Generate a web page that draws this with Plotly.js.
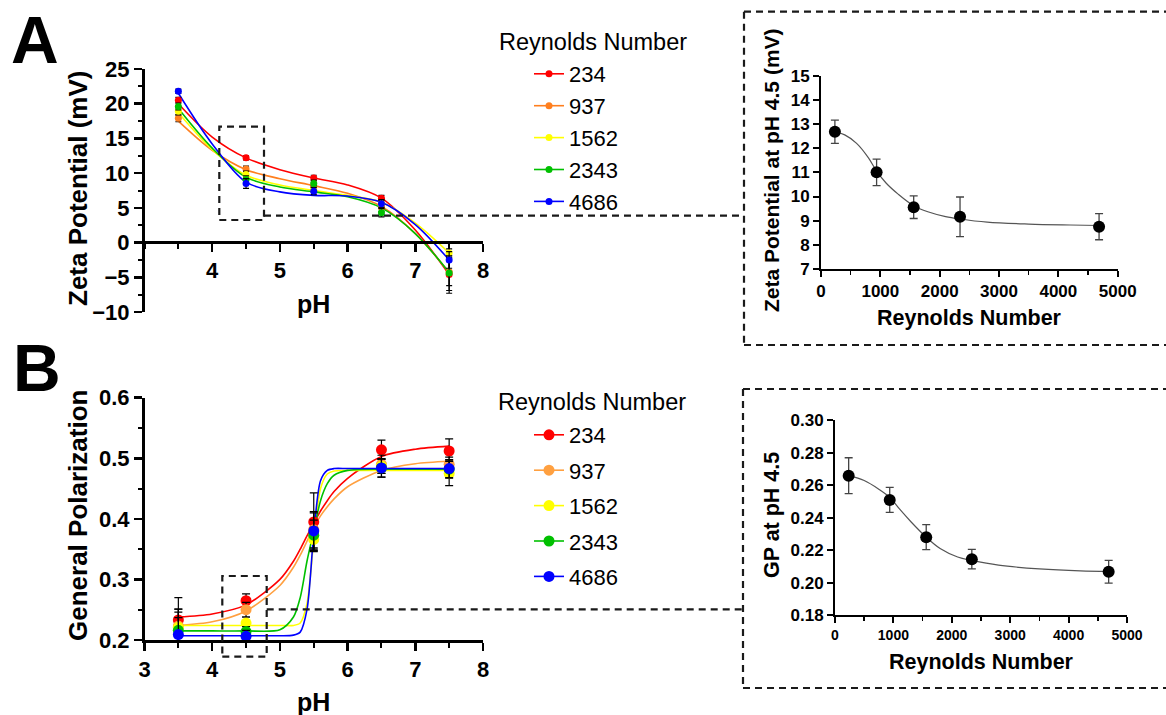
<!DOCTYPE html>
<html>
<head>
<meta charset="utf-8">
<script src="https://cdn.plot.ly/plotly-3.0.1.min.js"></script>
<style>html,body{margin:0;padding:0;background:#fff;}#chart{width:1166px;height:715px;}</style>
</head>
<body>
<div id="chart"></div>
<script>
// ---------- DATA ----------
const seriesNames = ['234', '937', '1562', '2343', '4686'];
const colorsA = ['#ff0000', '#ff7f1e', '#ffff00', '#00c000', '#0000ff'];
const colorsB = ['#ff0000', '#ffa040', '#ffff00', '#00c000', '#0000ff'];

// Panel A: zeta potential vs pH
const pHPoints = [3.5, 4.5, 5.5, 6.5, 7.5];
const zeta234  = [20.5, 12.2, 9.3, 6.4, -4.6];
const zeta937  = [17.9, 10.6, 8.1, 5.1, -4.2];
const zeta1562 = [18.9, 9.8, 7.7, 5.6, -1.5];
const zeta2343 = [19.6, 9.1, 8.5, 4.3, -4.4];
const zeta4686 = [21.8, 8.5, 7.4, 5.6, -2.5];
const zetaErr234  = [0.4, 0.3, 0.4, 0.4, 2.7];
const zetaErr937  = [0.5, 0.4, 0.5, 0.6, 2.0];
const zetaErr1562 = [0.5, 0.5, 0.5, 0.5, 0.6];
const zetaErr2343 = [0.5, 0.5, 0.5, 0.6, 2.5];
const zetaErr4686 = [0.3, 0.7, 0.5, 0.6, 1.2];

// Panel A fitted curves
const fitPHA = [3.5, 4, 4.5, 5, 5.5, 6, 6.5, 7, 7.5];
const zetaFit234  = [20.0, 15.2, 12.2, 10.5, 9.3, 8.3, 6.4, 1.8, -4.6];
const zetaFit937  = [17.5, 13.3, 10.5, 9.2, 8.2, 7.1, 5.2, 1.3, -4.3];
const zetaFit1562 = [18.7, 13.4, 9.7, 8.3, 7.5, 6.8, 5.8, 2.8, -1.5];
const zetaFit2343 = [19.3, 13.6, 9.4, 8.0, 7.3, 6.6, 5.0, 1.3, -4.3];
const zetaFit4686 = [21.5, 14.2, 8.7, 7.3, 6.8, 6.7, 5.8, 2.6, -2.5];

// Panel B: general polarization vs pH
const gp234  = [0.233, 0.265, 0.395, 0.514, 0.512];
const gp937  = [0.223, 0.250, 0.382, 0.490, 0.490];
const gp1562 = [0.221, 0.228, 0.366, 0.487, 0.475];
const gp2343 = [0.216, 0.214, 0.373, 0.484, 0.482];
const gp4686 = [0.209, 0.206, 0.380, 0.484, 0.483];
const gpErr234  = [0.037, 0.011, 0.048, 0.016, 0.020];
const gpErr937  = [0.028, 0.012, 0.030, 0.015, 0.012];
const gpErr1562 = [0.030, 0.010, 0.020, 0.012, 0.020];
const gpErr2343 = [0.030, 0.008, 0.025, 0.015, 0.015];
const gpErr4686 = [0.028, 0.010, 0.030, 0.015, 0.015];

// Panel B fitted curves
const fitPHB = [3.5, 4, 4.5, 5, 5.2, 5.3, 5.4, 5.5, 5.6, 5.7, 5.8, 6, 6.5, 7, 7.5];
const gpFit234  = [0.238, 0.243, 0.258, 0.300, 0.330, 0.350, 0.372, 0.393, 0.413, 0.430, 0.445, 0.467, 0.503, 0.515, 0.520];
const gpFit937  = [0.224, 0.230, 0.248, 0.290, 0.320, 0.340, 0.363, 0.386, 0.405, 0.420, 0.433, 0.453, 0.480, 0.491, 0.495];
const gpFit1562 = [0.224, 0.224, 0.224, 0.224, 0.224, 0.228, 0.260, 0.365, 0.450, 0.474, 0.479, 0.480, 0.480, 0.480, 0.480];
const gpFit2343 = [0.215, 0.215, 0.215, 0.217, 0.238, 0.270, 0.330, 0.380, 0.430, 0.458, 0.472, 0.480, 0.482, 0.482, 0.482];
const gpFit4686 = [0.207, 0.207, 0.207, 0.207, 0.208, 0.213, 0.250, 0.375, 0.463, 0.480, 0.483, 0.483, 0.483, 0.483, 0.483];

// Right panels: value at pH 4.5 vs Reynolds number
const reynolds = [234, 937, 1562, 2343, 4686];
const zetaAt45 = [12.68, 11.0, 9.56, 9.16, 8.75];
const zetaAt45Err = [0.48, 0.55, 0.47, 0.82, 0.54];
const gpAt45 = [0.2658, 0.2509, 0.228, 0.2145, 0.2068];
const gpAt45Err = [0.011, 0.0077, 0.0077, 0.006, 0.007];

const reFitZeta = [234, 400, 600, 800, 937, 1100, 1300, 1562, 1800, 2100, 2343, 2800, 3500, 4200, 4686];
const zetaFitRe = [12.68, 12.55, 12.2, 11.6, 11.05, 10.55, 10.1, 9.62, 9.37, 9.17, 9.07, 8.94, 8.86, 8.82, 8.8];
const reFitGP = [234, 500, 750, 937, 1100, 1300, 1562, 1800, 2100, 2343, 2800, 3500, 4200, 4686];
const gpFitRe = [0.266, 0.2628, 0.2575, 0.2525, 0.2455, 0.2375, 0.228, 0.221, 0.2158, 0.2137, 0.2108, 0.2085, 0.2073, 0.207];

// ---------- BUILD ----------
const W = 1166, H = 715;
const px = v => v / W;
const py = v => 1 - v / H;
const FONT = 'Liberation Sans, Arial, sans-serif';

const zetaData = [zeta234, zeta937, zeta1562, zeta2343, zeta4686];
const zetaErrs = [zetaErr234, zetaErr937, zetaErr1562, zetaErr2343, zetaErr4686];
const zetaFits = [zetaFit234, zetaFit937, zetaFit1562, zetaFit2343, zetaFit4686];
const gpData = [gp234, gp937, gp1562, gp2343, gp4686];
const gpErrs = [gpErr234, gpErr937, gpErr1562, gpErr2343, gpErr4686];
const gpFits = [gpFit234, gpFit937, gpFit1562, gpFit2343, gpFit4686];

const traces = [];
// Panel A
seriesNames.forEach((n, i) => {
  traces.push({x: fitPHA, y: zetaFits[i], mode: 'lines', line: {color: colorsA[i], width: 1.6, shape: 'spline', smoothing: 0.9},
    xaxis: 'x', yaxis: 'y', showlegend: false, hoverinfo: 'skip'});
});
seriesNames.forEach((n, i) => {
  traces.push({x: pHPoints, y: zetaData[i], mode: 'markers', marker: {color: colorsA[i], size: 7},
    error_y: {type: 'data', array: zetaErrs[i], visible: true, color: '#000', thickness: 1.2, width: 3},
    xaxis: 'x', yaxis: 'y', showlegend: false});
});
seriesNames.forEach((n, i) => {
  traces.push({x: [null], y: [null], name: n, mode: 'lines+markers', marker: {color: colorsA[i], size: 7},
    line: {color: colorsA[i], width: 1.6}, xaxis: 'x', yaxis: 'y', legend: 'legend', legendgroup: 'a' + i});
});
// Panel B
seriesNames.forEach((n, i) => {
  traces.push({x: fitPHB, y: gpFits[i], mode: 'lines', line: {color: colorsB[i], width: 1.6, shape: 'spline', smoothing: 0.8},
    xaxis: 'x2', yaxis: 'y2', showlegend: false, hoverinfo: 'skip'});
});
seriesNames.forEach((n, i) => {
  traces.push({x: pHPoints, y: gpData[i], mode: 'markers', marker: {color: colorsB[i], size: 11},
    error_y: {type: 'data', array: gpErrs[i], visible: true, color: '#000', thickness: 1.2, width: 4},
    xaxis: 'x2', yaxis: 'y2', showlegend: false});
});
seriesNames.forEach((n, i) => {
  traces.push({x: [null], y: [null], name: n, mode: 'lines+markers', marker: {color: colorsB[i], size: 11},
    line: {color: colorsB[i], width: 1.6}, xaxis: 'x2', yaxis: 'y2', legend: 'legend2', legendgroup: 'b' + i});
});
// Right A
traces.push({x: reFitZeta, y: zetaFitRe, mode: 'lines', line: {color: '#555', width: 1.2, shape: 'spline'},
  xaxis: 'x3', yaxis: 'y3', showlegend: false, hoverinfo: 'skip'});
traces.push({x: reynolds, y: zetaAt45, mode: 'markers', marker: {color: '#000', size: 12},
  error_y: {type: 'data', array: zetaAt45Err, visible: true, color: '#444', thickness: 1.3, width: 4},
  xaxis: 'x3', yaxis: 'y3', showlegend: false});
// Right B
traces.push({x: reFitGP, y: gpFitRe, mode: 'lines', line: {color: '#555', width: 1.2, shape: 'spline'},
  xaxis: 'x4', yaxis: 'y4', showlegend: false, hoverinfo: 'skip'});
traces.push({x: reynolds, y: gpAt45, mode: 'markers', marker: {color: '#000', size: 12},
  error_y: {type: 'data', array: gpAt45Err, visible: true, color: '#444', thickness: 1.3, width: 4},
  xaxis: 'x4', yaxis: 'y4', showlegend: false});

const boldTick = s => ({family: FONT, size: s, color: '#000', weight: 'bold'});
const baseAxis = (lw) => ({showgrid: false, zeroline: false, showline: true, linecolor: '#000', linewidth: lw,
  ticks: 'outside', tickcolor: '#000', fixedrange: true});

const layout = {
  width: W, height: H, margin: {l: 0, r: 0, t: 0, b: 0},
  paper_bgcolor: '#fff', plot_bgcolor: 'rgba(0,0,0,0)',
  font: {family: FONT, color: '#000'},
  xaxis: Object.assign(baseAxis(2.5), {domain: [px(144.5), px(483)], range: [3, 8], anchor: 'free', position: py(242.3),
    tickvals: [4, 5, 6, 7, 8], ticklen: 8, tickwidth: 2.5, tickfont: boldTick(22),
    minor: {tick0: 3, dtick: 0.5, ticklen: 5, tickwidth: 2, ticks: 'outside', tickcolor: '#000'}}),
  yaxis: Object.assign(baseAxis(2.5), {domain: [py(312), py(69)], range: [-10, 25], anchor: 'x',
    tick0: -10, dtick: 5, ticklen: 8, tickwidth: 2.5, tickfont: boldTick(22),
    minor: {tick0: -10, dtick: 2.5, ticklen: 4, tickwidth: 2, ticks: 'outside', tickcolor: '#000'}}),
  xaxis2: Object.assign(baseAxis(2.5), {domain: [px(144.5), px(483)], range: [3, 8], anchor: 'y2',
    tick0: 3, dtick: 1, ticklen: 8, tickwidth: 2.5, tickfont: boldTick(22),
    minor: {tick0: 3, dtick: 0.5, ticklen: 5, tickwidth: 2, ticks: 'outside', tickcolor: '#000'}}),
  yaxis2: Object.assign(baseAxis(2.5), {domain: [py(640), py(397.7)], range: [0.2, 0.6], anchor: 'x2',
    tick0: 0.2, dtick: 0.1, tickformat: '.1f', ticklen: 8, tickwidth: 2.5, tickfont: boldTick(22),
    minor: {tick0: 0.2, dtick: 0.05, ticklen: 4, tickwidth: 2, ticks: 'outside', tickcolor: '#000'}}),
  xaxis3: Object.assign(baseAxis(2), {domain: [px(821), px(1117.7)], range: [0, 5000], anchor: 'y3',
    tick0: 0, dtick: 1000, ticklen: 6, tickwidth: 2, tickfont: boldTick(17),
    minor: {tick0: 0, dtick: 500, ticklen: 4, tickwidth: 1.5, ticks: 'outside', tickcolor: '#000'}}),
  yaxis3: Object.assign(baseAxis(2), {domain: [py(269), py(75.7)], range: [7, 15], anchor: 'x3',
    tick0: 7, dtick: 1, ticklen: 6, tickwidth: 2, tickfont: boldTick(17)}),
  xaxis4: Object.assign(baseAxis(2), {domain: [px(835), px(1127)], range: [0, 5000], anchor: 'y4',
    tick0: 0, dtick: 1000, ticklen: 6, tickwidth: 2, tickfont: boldTick(14),
    minor: {tick0: 0, dtick: 500, ticklen: 4, tickwidth: 1.5, ticks: 'outside', tickcolor: '#000'}}),
  yaxis4: Object.assign(baseAxis(2), {domain: [py(615.3), py(420)], range: [0.18, 0.30], anchor: 'x4',
    tick0: 0.18, dtick: 0.02, tickformat: '.2f', ticklen: 6, tickwidth: 2, tickfont: boldTick(17)}),
  legend: {x: px(529), y: py(53), xanchor: 'left', yanchor: 'top', bgcolor: 'rgba(0,0,0,0)',
    font: {family: FONT, size: 22, color: '#000'}, traceorder: 'grouped', tracegroupgap: 0.3, itemwidth: 30},
  legend2: {x: px(529), y: py(414), xanchor: 'left', yanchor: 'top', bgcolor: 'rgba(0,0,0,0)',
    font: {family: FONT, size: 22, color: '#000'}, traceorder: 'grouped', tracegroupgap: 3.8, itemwidth: 30},
  shapes: [],
  annotations: []
};

const dash = {color: '#1a1a1a', width: 2.2, dash: '7px,5px'};
const line = (x0, y0, x1, y1) => ({type: 'line', xref: 'paper', yref: 'paper', x0: px(x0), y0: py(y0), x1: px(x1), y1: py(y1), line: dash});
layout.shapes.push(
  {type: 'rect', xref: 'paper', yref: 'paper', x0: px(219.3), y0: py(220), x1: px(264), y1: py(126.7), line: dash},
  line(264, 215.7, 744, 215.7),
  line(744, 11.7, 1166, 11.7), line(744, 11.7, 744, 345), line(744, 345, 1166, 345),
  {type: 'rect', xref: 'paper', yref: 'paper', x0: px(222.3), y0: py(656.7), x1: px(266.7), y1: py(576), line: dash},
  line(266.7, 609.3, 743, 609.3),
  line(743, 389, 1166, 389), line(743, 389, 743, 688), line(743, 688, 1166, 688)
);

const ann = (text, x, y, size, bold, angle, xanchor) => ({text: text, xref: 'paper', yref: 'paper', x: px(x), y: py(y),
  xanchor: xanchor || 'center', yanchor: 'middle', showarrow: false, textangle: angle || 0,
  font: {family: FONT, size: size, color: '#000', weight: bold ? 'bold' : 'normal'}});
layout.annotations.push(
  ann('A', 35, 40, 66, true),
  ann('B', 37, 368, 66, true),
  ann('Reynolds Number', 497, 42, 23.5, false, 0, 'left'),
  ann('Reynolds Number', 496, 402, 23.5, false, 0, 'left'),
  ann('Zeta Potential (mV)', 78, 189, 26, true, -90),
  ann('pH', 313, 304, 25, true),
  ann('General Polarization', 78, 516, 26, true, -90),
  ann('pH', 313, 702, 25, true),
  ann('Zeta Potential at pH 4.5 (mV)', 772, 170, 21, true, -90),
  ann('Reynolds Number', 969, 318, 21.5, true),
  ann('GP at pH 4.5', 772, 515, 21.5, true, -90),
  ann('Reynolds Number', 981, 662, 21.5, true)
);

Plotly.newPlot('chart', traces, layout, {displayModeBar: false, staticPlot: true});
</script>
</body>
</html>
